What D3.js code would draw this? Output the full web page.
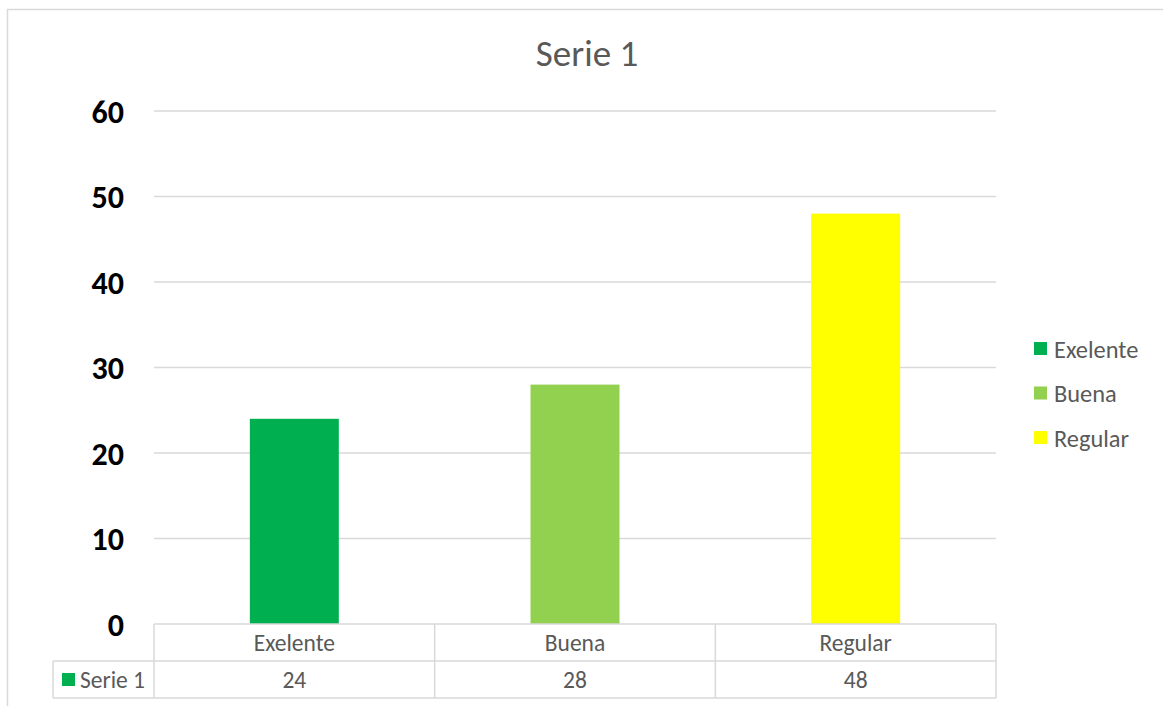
<!DOCTYPE html>
<html><head><meta charset="utf-8">
<script src="https://cdn.jsdelivr.net/npm/d3@7"></script>
<style>body{margin:0;background:#fff;}svg{display:block;}</style>
</head><body>
<svg id="chart" width="1163" height="706"></svg>
<script>
const title = "Serie 1";
const seriesName = "Serie 1";
const categories = ["Exelente", "Buena", "Regular"];
const values = [24, 28, 48];
const colors = ["#00b050", "#92d050", "#ffff00"];
const yTicks = [0, 10, 20, 30, 40, 50, 60];

(function () {
const font = "Carlito, Calibri, 'Open Sans', 'Liberation Sans', sans-serif";
const svg = d3.select("#chart");
const W = 1163, H = 706;
svg.append("rect").attr("width", W).attr("height", H).attr("fill", "#fff");
// chart frame
svg.append("path").attr("d", `M7.5,${H} L7.5,9.5 L${W},9.5`).attr("fill","none").attr("stroke","#d9d9d9").attr("stroke-width",1.5);

const plotLeft = 154, plotRight = 996, plotTop = 111, plotBottom = 624;
const x = d3.scaleBand().domain(categories).range([plotLeft, plotRight]).paddingInner(0).paddingOuter(0);
const y = d3.scaleLinear().domain([0, 60]).range([plotBottom, plotTop]);

// gridlines
svg.append("g").selectAll("line").data(yTicks.filter(d => d > 0)).join("line")
  .attr("x1", plotLeft).attr("x2", plotRight)
  .attr("y1", d => y(d)).attr("y2", d => y(d))
  .attr("stroke", "#d9d9d9").attr("stroke-width", 1.5);

// y axis labels via d3 axis
const yAxis = d3.axisLeft(y).tickValues(yTicks).tickSize(0).tickPadding(0);
const gy = svg.append("g").attr("transform", `translate(124,0)`).call(yAxis);
gy.select(".domain").remove();
gy.selectAll("text").attr("font-family", font).attr("font-size", 32).attr("font-weight", "bold").attr("fill", "#000").attr("dy", "0.35em");

// bars
const bw = x.bandwidth() * 0.317;
svg.append("g").selectAll("rect").data(values).join("rect")
  .attr("x", (d, i) => x(categories[i]) + x.bandwidth() / 2 - bw / 2)
  .attr("width", bw)
  .attr("y", d => y(d))
  .attr("height", d => y(0) - y(d))
  .attr("fill", (d, i) => colors[i]);

// data table
const row1 = plotBottom, row2 = 661, row3 = 698, tableLeft = 53;
const tg = svg.append("g").attr("stroke", "#d9d9d9").attr("stroke-width", 1.5).attr("fill", "none");
tg.append("line").attr("x1", plotLeft).attr("x2", plotRight).attr("y1", row1).attr("y2", row1);
tg.append("line").attr("x1", tableLeft).attr("x2", plotRight).attr("y1", row2).attr("y2", row2);
tg.append("line").attr("x1", tableLeft).attr("x2", plotRight).attr("y1", row3).attr("y2", row3);
tg.append("line").attr("x1", tableLeft).attr("x2", tableLeft).attr("y1", row2).attr("y2", row3);
const vlines = categories.map(c => x(c)).concat([plotRight]);
tg.selectAll(".v").data(vlines).join("line").attr("class","v")
  .attr("x1", d => d).attr("x2", d => d).attr("y1", row1).attr("y2", row3);

svg.append("g").selectAll("text").data(categories).join("text")
  .attr("x", d => x(d) + x.bandwidth() / 2).attr("y", (row1 + row2) / 2).attr("dy", "0.35em")
  .attr("text-anchor", "middle").attr("font-family", font).attr("font-size", 23.5).attr("fill", "#595959")
  .text(d => d);
svg.append("g").selectAll("text").data(values).join("text")
  .attr("x", (d, i) => x(categories[i]) + x.bandwidth() / 2).attr("y", (row2 + row3) / 2).attr("dy", "0.35em")
  .attr("text-anchor", "middle").attr("font-family", font).attr("font-size", 23.5).attr("fill", "#595959")
  .text(d => d);
svg.append("rect").attr("x", 62).attr("y", 673).attr("width", 13).attr("height", 13).attr("fill", colors[0]);
svg.append("text").attr("x", 80).attr("y", (row2 + row3) / 2).attr("dy", "0.35em")
  .attr("font-family", font).attr("font-size", 23.5).attr("fill", "#595959").text(seriesName);

// title
svg.append("text").attr("x", 587).attr("y", 53).attr("dy", "0.35em").attr("text-anchor", "middle")
  .attr("font-family", font).attr("font-size", 37).attr("fill", "#595959").text(title);

// legend
const lg = svg.append("g").selectAll("g").data(categories).join("g")
  .attr("transform", (d, i) => `translate(1034, ${349 + i * 44.5})`);
lg.append("rect").attr("x", 0).attr("y", -7).attr("width", 13).attr("height", 13).attr("fill", (d, i) => colors[i]);
lg.append("text").attr("x", 20).attr("y", 0).attr("dy", "0.35em")
  .attr("font-family", font).attr("font-size", 24.4).attr("fill", "#595959").text(d => d);
})();
</script>
</body></html>
